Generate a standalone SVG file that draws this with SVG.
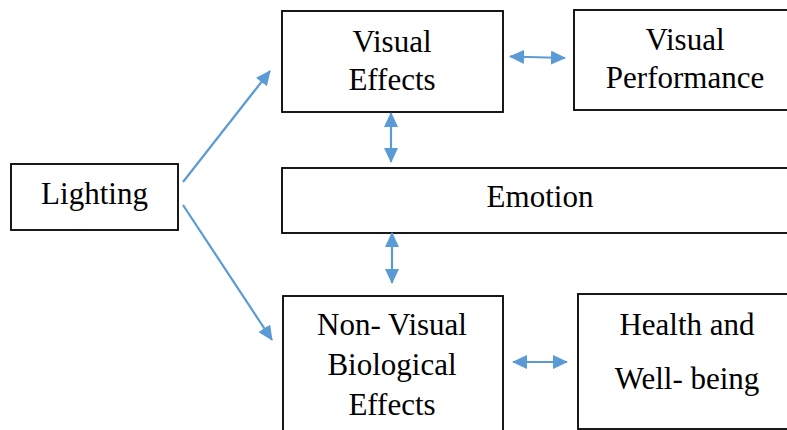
<svg xmlns="http://www.w3.org/2000/svg" width="787" height="430" viewBox="0 0 787 430">
  <defs>
    <style>
      .box { fill: #ffffff; stroke: #000000; stroke-width: 1.8; }
      .lbl { font-family: "Times New Roman", Times, "Liberation Serif", "Noto Serif", "DejaVu Serif", serif; font-size: 31px; fill: #000000; text-anchor: middle; }
      .link { stroke: #5B9BD5; stroke-width: 2.2; fill: none; }
      .one { marker-end: url(#head); }
      .two { marker-start: url(#head); marker-end: url(#head); }
    </style>
    <marker id="head" viewBox="0 0 15 14" markerWidth="15" markerHeight="14" refX="14" refY="7" orient="auto-start-reverse" markerUnits="userSpaceOnUse">
      <path d="M0,0 L15,7 L0,14 Z" fill="#5B9BD5"/>
    </marker>
  </defs>

  <rect width="787" height="430" fill="#ffffff"/>

  <g id="lighting">
    <rect class="box" x="11" y="164" width="167" height="66"/>
    <text class="lbl" x="94.5" y="204">Lighting</text>
  </g>

  <g id="visual-effects">
    <rect class="box" x="282" y="11" width="221" height="101"/>
    <text class="lbl" x="392" y="52">Visual</text>
    <text class="lbl" x="392" y="90">Effects</text>
  </g>

  <g id="visual-performance">
    <rect class="box" x="574" y="10" width="223" height="100"/>
    <text class="lbl" x="685" y="50">Visual</text>
    <text class="lbl" x="685" y="88">Performance</text>
  </g>

  <g id="emotion">
    <rect class="box" x="282" y="168" width="516" height="65"/>
    <text class="lbl" x="540" y="207">Emotion</text>
  </g>

  <g id="non-visual">
    <rect class="box" x="283" y="296" width="220" height="150"/>
    <text class="lbl" x="392" y="335">Non- Visual</text>
    <text class="lbl" x="392" y="375">Biological</text>
    <text class="lbl" x="392" y="415">Effects</text>
  </g>

  <g id="health">
    <rect class="box" x="578" y="294" width="220" height="135"/>
    <text class="lbl" x="687" y="335">Health and</text>
    <text class="lbl" x="687" y="389">Well- being</text>
  </g>

  <g id="connectors">
    <line class="link one" x1="183" y1="182" x2="270" y2="71"/>
    <line class="link one" x1="183" y1="205" x2="272" y2="340"/>
    <line class="link two" x1="391" y1="113" x2="391" y2="162"/>
    <line class="link two" x1="392" y1="233" x2="392" y2="283"/>
    <line class="link two" x1="510" y1="56.5" x2="565" y2="58"/>
    <line class="link two" x1="513" y1="362" x2="567" y2="362"/>
  </g>
</svg>
